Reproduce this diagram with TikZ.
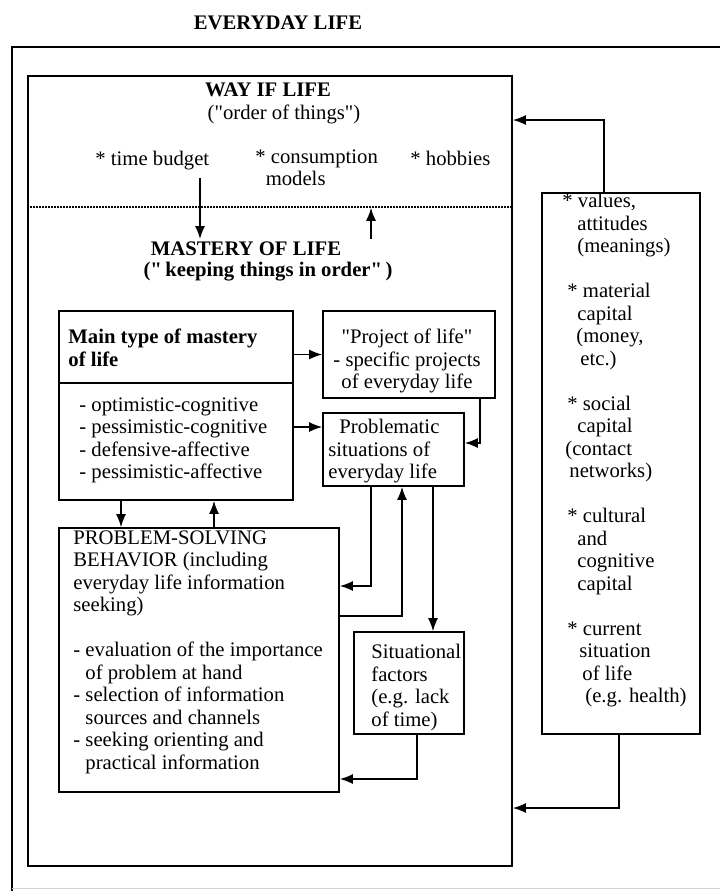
\documentclass[tikz,border=0pt]{standalone}
\usepackage{fontspec}
\setmainfont[Ligatures=TeXOff]{Liberation Serif}
\usetikzlibrary{arrows.meta,fit}
\newcommand\labelsize{\fontsize{10.35}{11.25}\selectfont}
\tikzset{
  box/.style={draw, line width=0.8pt, inner sep=0pt},
  txt/.style={inner sep=0pt, anchor=north west, align=left, execute at begin node=\strut},
  ctxt/.style={txt, anchor=north, align=center},
  bold/.style={font=\labelsize\bfseries},
  link/.style={line width=0.8pt, ->},
  dotline/.style={line width=1.4pt, dash pattern=on 0.7pt off 0.8pt},
}
\begin{document}
\begin{tikzpicture}[x=0.5pt,y=-0.5pt,>={Latex[length=6.5pt,width=5pt]},font=\labelsize]
  \useasboundingbox (0,0) rectangle (720,891);
  % outer frame
  \draw[line width=0.6pt] (720,47) -- (12,47) -- (12,891);
  \draw[gray!35, line width=0.5pt] (12,888) -- (720,888);
  \node[ctxt, bold] (title) at (278,13) {EVERYDAY LIFE};

  % boxes
  \node[box, fit={(28,76) (512,866)}] (way) {};
  \node[box, fit={(542,193) (700,734)}] (capital) {};
  \node[box, fit={(59,311) (293,383)}] (mainhead) {};
  \node[box, fit={(59,383) (293,500)}] (mainlist) {};
  \node[box, fit={(323,311) (495,398)}] (project) {};
  \node[box, fit={(323,413) (464,486)}] (problem) {};
  \node[box, fit={(59,528) (339,792)}] (ps) {};
  \node[box, fit={(354,632) (464,734)}] (situ) {};

  % way of life / mastery of life
  \node[ctxt, bold] (wayhead) at (268,80) {WAY IF LIFE};
  \node[ctxt] (order) at (284,103) {("order of things")};
  \node[txt] (budget) at (95,149) {* time budget};
  \node[txt] (consum) at (255,149) {* consumption\\\phantom{*}models};
  \node[txt] (hobbies) at (410,149) {* hobbies};
  \draw[dotline] (way.west |- 0,207) -- (way.east |- 0,207);
  \node[ctxt, bold] (mastery) at (246,239) {MASTERY OF LIFE};
  \node[ctxt, bold] (keeping) at (268,260) {("\,keeping things in order"\,)};

  % texts in the boxes
  \node[txt, bold] (mainname) at (68,329) {Main type of mastery\\of life};
  \node[txt] (types) at (79,397) {- optimistic-cognitive\\- pessimistic-cognitive\\- defensive-affective\\- pessimistic-affective};
  \node[ctxt] (projtext) at (407,329) {"Project of life"\\- specific projects\\of everyday life};
  \node[txt] (probtext) at (328,419) {\hspace{5.5pt}Problematic\\situations of\\everyday life};
  \node[txt] (pstext) at (73,530) {PROBLEM-SOLVING\\BEHAVIOR (including\\everyday life information\\seeking)\\[\baselineskip]- evaluation of the importance\\\phantom{- }of problem at hand\\- selection of information\\\phantom{- }sources and channels\\- seeking orienting and\\\phantom{- }practical information};
  \node[txt] (situtext) at (371,644) {Situational\\factors\\(e.g. lack\\of time)};
  \node[txt] (captext) at (562,193) {* values,\\\hspace{7.5pt}attitudes\\\hspace{7.5pt}(meanings)\\[\baselineskip]%
    \hspace{2.5pt}* material\\\hspace{7.5pt}capital\\\hspace{7pt}(money,\\\hspace{9pt}etc.)\\[\baselineskip]%
    \hspace{2.5pt}* social\\\hspace{7.5pt}capital\\\hspace{1.5pt}(contact\\\hspace{3.5pt}networks)\\[\baselineskip]%
    \hspace{2.5pt}* cultural\\\hspace{7.5pt}and\\\hspace{7.5pt}cognitive\\\hspace{7.5pt}capital\\[\baselineskip]%
    \hspace{2.5pt}* current\\\hspace{8.5pt}situation\\\hspace{10pt}of life\\\hspace{11.5pt}(e.g. health)};

  % arrows
  \draw[link] (capital.north -| 604,0) |- (way.east |- 0,120);
  \draw[link] (capital.south -| 619,0) |- (way.east |- 0,808);
  \draw[link, shorten <=2.75pt] (budget.south -| 200,0) -- (mastery.north -| 200,0);
  \draw[link, shorten >=7.5pt] (mastery.north -| 371,0) -- (consum.south -| 371,0);
  \draw[link] (mainhead.east |- project.west) -- (project.west);
  \draw[link] (mainlist.east |- 0,427) -- (problem.west |- 0,427);
  \draw[link] (project.south -| 480,0) |- (problem.east |- 0,443);
  \draw[link] (mainlist.south -| 121,0) -- (ps.north -| 121,0);
  \draw[link] (ps.north -| 214,0) -- (mainlist.south -| 214,0);
  \draw[link] (problem.south -| 371,0) |- (ps.east |- 0,586);
  \draw[link] (ps.east |- 0,616) -| (problem.south -| 402,0);
  \draw[link] (problem.south -| 433,0) -- (situ.north -| 433,0);
  \draw[link] (situ.south -| 417,0) |- (ps.east |- 0,779);
\end{tikzpicture}
\end{document}
